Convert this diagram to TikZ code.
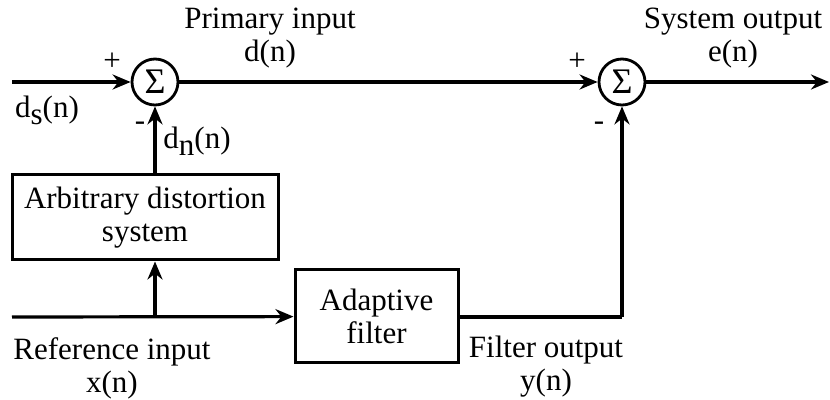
\documentclass[tikz,border=0pt]{standalone}
\usepackage{fontspec}
\setmainfont{Liberation Serif}
\usetikzlibrary{arrows.meta,positioning}

\begin{document}
\begin{tikzpicture}[x=0.5pt,y=-0.5pt,font=\fontsize{15.5pt}{16.5pt}\selectfont,
  blk/.style={draw,line width=1.5pt,align=center,inner sep=0pt},
  sumnode/.style={draw,circle,line width=1.4pt,minimum size=23pt,inner sep=0pt,font=\fontsize{18pt}{18pt}\selectfont},
  sig/.style={line width=1.6pt},
  sigarr/.style={sig,-{Stealth[length=9pt,width=7.5pt]}},
  lbl/.style={align=center,inner sep=0pt}]
\useasboundingbox (0,0) rectangle (830,400);

\node[sumnode] (sumA) at (155,82) {Σ};
\node[sumnode] (sumB) at (622,82) {Σ};
\node[blk,minimum width=133pt,minimum height=42.5pt] (dist) at (145,217.5) {Arbitrary distortion\\system};
\node[blk,minimum width=81.5pt,minimum height=46.5pt] (adapt) at (376.5,316.5) {Adaptive\\filter};

\coordinate (dsin) at (12,82);
\coordinate (eout) at (829,82);
\coordinate (xin) at (12,317);
\coordinate (tap) at (155,317);
\coordinate (yc) at (622,317);

% signal paths
\draw[sigarr] (dsin) -- (sumA);
\draw[sigarr] (sumA) -- (sumB);
\draw[sigarr] (sumB) -- (eout);
\draw[sigarr] (xin) -- (adapt);
\draw[sigarr] (tap) -- (tap |- dist.south);
\draw[sigarr] (dist.north -| sumA) -- (sumA);
\draw[sig] (adapt.east |- yc) -- (yc);
\draw[sigarr] (yc) -- (sumB);

% labels
\node[lbl] (plus1) at (112,62) {+};
\node[lbl] (minus1) at (140,126) {-};
\node[lbl] (plus2) at (577,62) {+};
\node[lbl] (minus2) at (599,126) {-};
\node[lbl] (ds) at (47,110) {d\raisebox{-.5ex}{s}(n)};
\node[lbl] (dn) at (197,141) {d\raisebox{-.5ex}{n}(n)};
\node[lbl] (prim) at (270,38) {Primary input\\d(n)};
\node[lbl] (sysout) at (733,38) {System output\\e(n)};
\node[lbl] (ref) at (112,368) {Reference input\\x(n)};
\node[lbl] (filtout) at (546,367) {Filter output\\y(n)};
\end{tikzpicture}
\end{document}
